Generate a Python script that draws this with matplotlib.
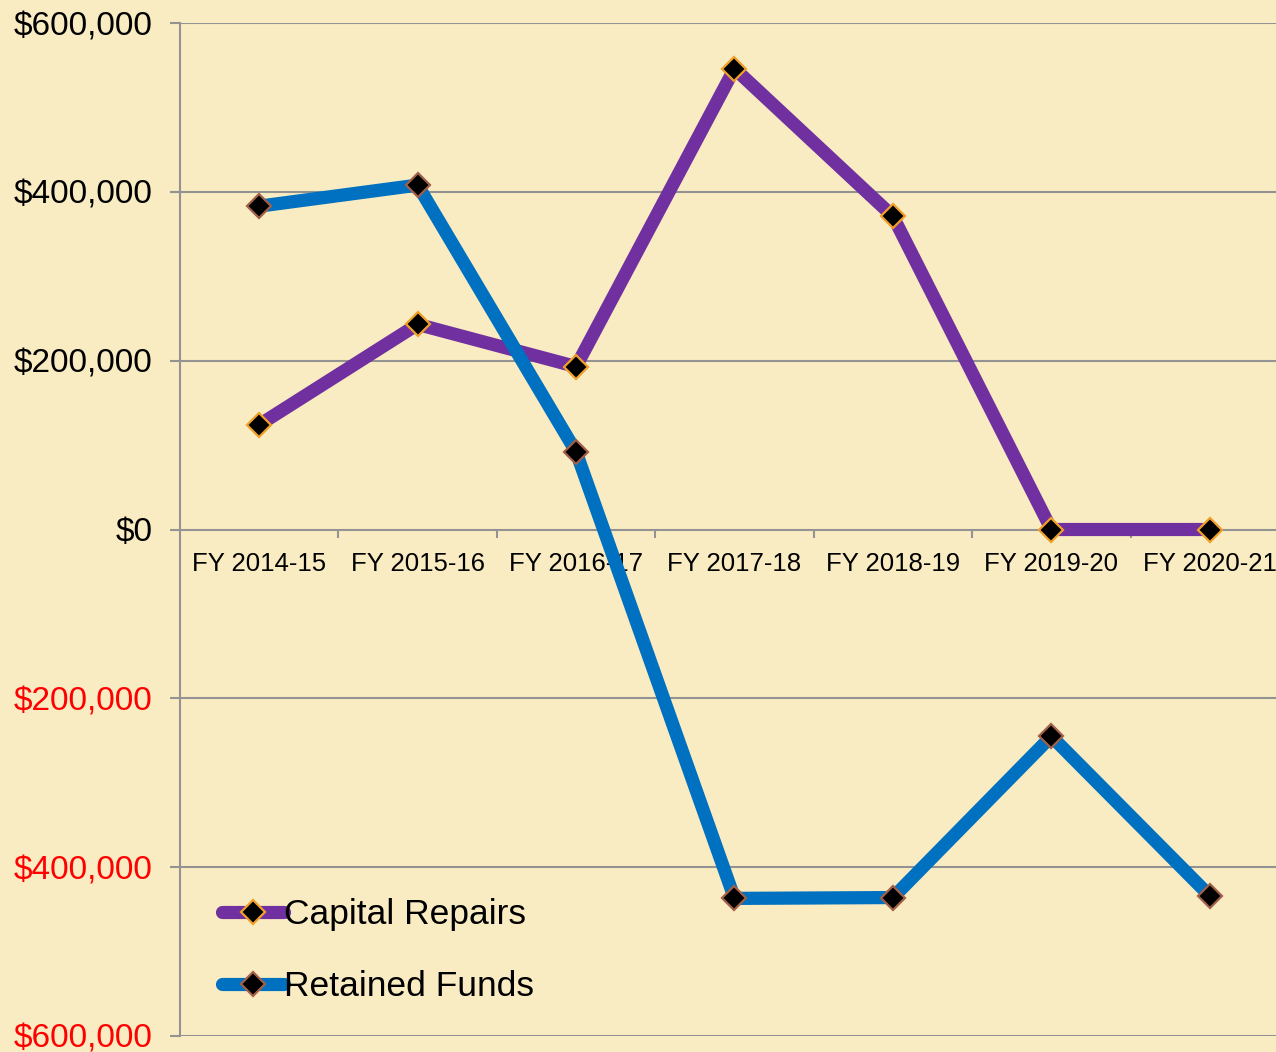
import matplotlib
matplotlib.use("Agg")
import matplotlib.pyplot as plt
from matplotlib.ticker import FixedLocator, FuncFormatter

plt.rcParams['font.family'] = ['Liberation Sans', 'DejaVu Sans']

# data
years = ["FY 2014-15", "FY 2015-16", "FY 2016-17", "FY 2017-18",
         "FY 2018-19", "FY 2019-20", "FY 2020-21"]
capital_repairs = [124000, 243000, 193000, 546000, 371000, 0, 0]
retained_funds = [383000, 408000, 92000, -437000, -436000, -245000, -434000]

BG = '#FAECC2'
GRID = '#939393'

fig = plt.figure(figsize=(12.76, 10.52), dpi=100, facecolor=BG)
ax = fig.add_axes([180 / 1276, 1 - 1036 / 1052, 1109 / 1276, 1013 / 1052])
ax.set_facecolor(BG)

x = list(range(len(years)))
ax.plot(x, capital_repairs, color='#7030A0', lw=9.5, solid_capstyle='round',
        solid_joinstyle='round', marker='D', ms=12, mfc='black',
        mec='#F0A02A', mew=1.6, label='Capital Repairs', zorder=3)
ax.plot(x, retained_funds, color='#0070C0', lw=9.5, solid_capstyle='round',
        solid_joinstyle='round', marker='D', ms=12, mfc='black',
        mec='#A0604A', mew=1.6, label='Retained Funds', zorder=4)

ax.set_xlim(-0.5, len(years) - 0.5)
ax.set_ylim(-600000, 600000)

# y axis: negatives shown in red without sign
ax.set_yticks(range(-600000, 600001, 200000))
ax.yaxis.set_major_formatter(FuncFormatter(lambda v, p: '${:,.0f}'.format(abs(v))))
ax.tick_params(axis='y', length=7, width=1.5, color=GRID, labelsize=24, pad=13)
for lab, v in zip(ax.get_yticklabels(), ax.get_yticks()):
    if v < 0:
        lab.set_color('red')
for v in ax.get_yticks():
    if v != 0:
        ax.axhline(v, color=GRID, lw=1.5, zorder=1)

# x axis at zero
ax.spines['bottom'].set_position(('data', 0))
ax.spines['bottom'].set_color(GRID)
ax.spines['bottom'].set_linewidth(1.5)
ax.spines['left'].set_color(GRID)
ax.spines['left'].set_linewidth(1.5)
ax.spines['top'].set_visible(False)
ax.spines['right'].set_visible(False)
ax.set_xticks(x)
ax.set_xticklabels(years)
ax.xaxis.set_minor_locator(FixedLocator([i + 0.5 for i in range(len(years) - 1)]))
ax.tick_params(axis='x', which='major', length=0, labelsize=18.5, pad=16)
ax.tick_params(axis='x', which='minor', length=6, width=1.5, color=GRID, direction='out')

leg = ax.legend(loc='upper left', bbox_to_anchor=(222 / 1276, 1 - 898 / 1052),
                bbox_transform=fig.transFigure, frameon=False, fontsize=25.5,
                handlelength=1.75, handletextpad=0.0, borderpad=0, borderaxespad=0,
                labelspacing=1.1)

fig.savefig('out.png', dpi=100, facecolor=BG)
